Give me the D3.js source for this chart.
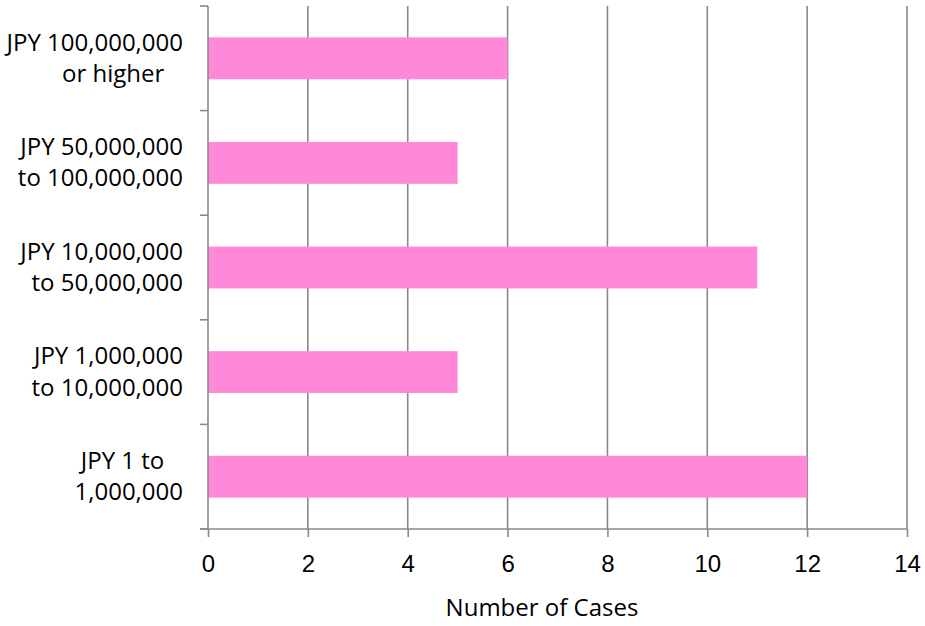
<!DOCTYPE html>
<html>
  <head>
    <meta charset='utf-8' />
    <title>Number of Cases</title>
    <style>
      body { margin: 0; background: #fff; }
      svg { display: block; font-family: "Open Sans", sans-serif; }
      .grid line { stroke: #898989; stroke-width: 1.6px; }
      .axis path, .axis line { stroke: #898989; stroke-width: 1.6px; }
      .axis text { font-size: 24px; fill: #000; }
      .bar { fill: #ff88d8; }
    </style>
  </head>
<body>
  <svg id="chart" width="925" height="626"></svg>

  <script src="https://d3js.org/d3.v7.min.js"></script>
  <script>
    // categories, top to bottom (each label split in two lines as in the picture)
    const categories = [
      ["JPY 100,000,000", "or higher\u00a0\u00a0\u00a0"],
      ["JPY 50,000,000", "to 100,000,000"],
      ["JPY 10,000,000", "to 50,000,000"],
      ["JPY 1,000,000", "to 10,000,000"],
      ["JPY 1 to\u00a0\u00a0\u00a0", "1,000,000"]
    ];
    const cases = [6, 5, 11, 5, 12];
    const xTicks = [0, 2, 4, 6, 8, 10, 12, 14];
    const xTitle = "Number of Cases";

    const w = 925, h = 626;
    const margin = {top: 6, right: 18, bottom: 97, left: 208};

    const svg = d3.select("#chart");

    const xScale = d3.scaleLinear()
                     .domain([0, 14])
                     .range([margin.left, w - margin.right]);

    const keys = categories.map((d, i) => i);
    const yScale = d3.scaleBand()
                     .domain(keys)
                     .range([margin.top, h - margin.bottom])
                     .paddingInner(0.6)
                     .paddingOuter(0.3);

    // vertical gridlines
    svg.append("g")
       .attr("class", "grid")
       .selectAll("line")
       .data(xTicks.filter(d => d > 0))
       .enter()
       .append("line")
       .attr("x1", d => xScale(d))
       .attr("x2", d => xScale(d))
       .attr("y1", margin.top)
       .attr("y2", h - margin.bottom);

    // bars
    svg.selectAll("rect.bar")
       .data(cases)
       .enter()
       .append("rect")
       .attr("class", "bar")
       .attr("x", xScale(0))
       .attr("y", (d, i) => yScale(i))
       .attr("width", d => xScale(d) - xScale(0))
       .attr("height", yScale.bandwidth());

    // x axis
    const xAxis = d3.axisBottom(xScale)
                    .tickValues(xTicks)
                    .tickSizeInner(8)
                    .tickSizeOuter(0)
                    .tickPadding(18);

    const gx = svg.append("g")
       .attr("class", "axis")
       .attr("transform", "translate(0," + (h - margin.bottom) + ")")
       .call(xAxis);
    gx.select(".domain").attr("d", "M" + (margin.left - 8) + ",0H" + xScale(14));

    // y axis: domain line plus ticks at band boundaries
    const yAxis = d3.axisLeft(yScale).tickSize(0).tickFormat("");
    const gy = svg.append("g")
       .attr("class", "axis")
       .attr("transform", "translate(" + margin.left + ",0)")
       .call(yAxis);
    gy.select(".domain").attr("d", "M0," + margin.top + "V" + (h - margin.bottom));

    const step = yScale.step();
    const bounds = d3.range(categories.length + 1).map(i => margin.top + i * step);
    gy.selectAll("line.bound")
      .data(bounds)
      .enter()
      .append("line")
      .attr("class", "bound")
      .attr("x1", -8)
      .attr("x2", 0)
      .attr("y1", d => d)
      .attr("y2", d => d);

    // category labels
    const labels = svg.append("g")
       .attr("class", "axis")
       .selectAll("text")
       .data(categories)
       .enter()
       .append("text")
       .attr("text-anchor", "end")
       .attr("y", (d, i) => yScale(i) + yScale.bandwidth() / 2);

    labels.selectAll("tspan")
       .data(d => d)
       .enter()
       .append("tspan")
       .attr("x", margin.left - 25)
       .attr("dy", (d, i) => i === 0 ? "-0.32em" : "1.3em")
       .text(d => d);

    // axis title
    svg.append("text")
       .attr("x", 542)
       .attr("y", 616)
       .attr("text-anchor", "middle")
       .style("font-size", "24px")
       .text(xTitle);
  </script>
</body>
</html>
